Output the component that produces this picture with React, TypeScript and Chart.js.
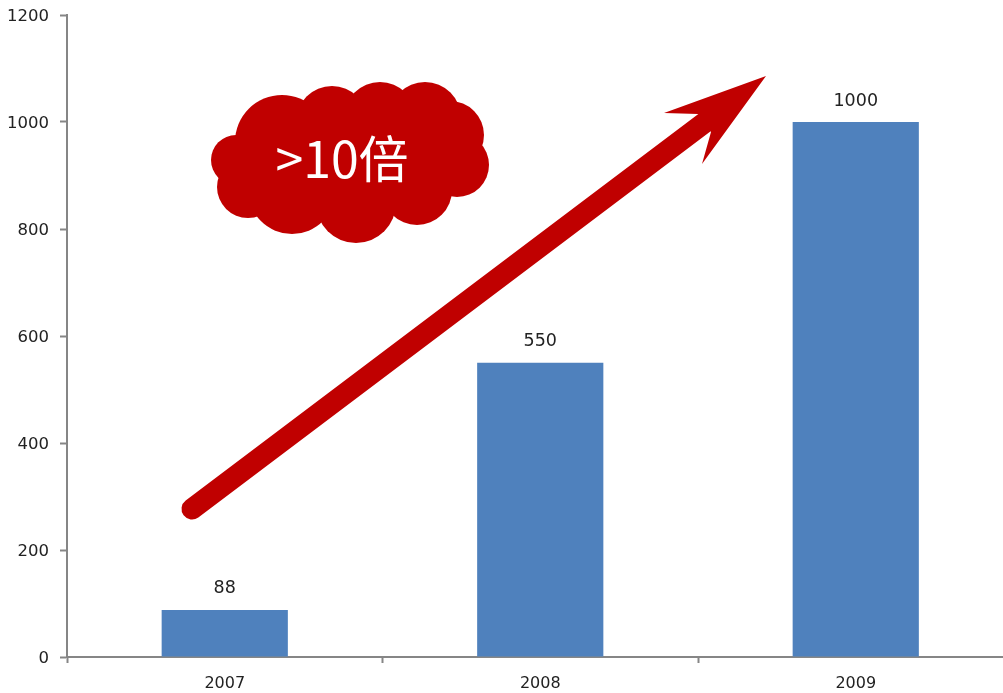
import { useEffect, useRef } from "react";
import { Chart, registerables } from "chart.js";

Chart.register(...registerables);

const categories = ["2007", "2008", "2009"];
const shipments = [88, 550, 1000];
const yTicks = [0, 200, 400, 600, 800, 1000, 1200];
const badgeText = ">10倍";

const RED = "#C00000";
const BLUE = "#4F81BD";
const AXIS = "#868686";
const TEXT = "#222222";
const FONT = '"DejaVu Sans", sans-serif';

// Lobes of the cloud badge: [x, y, radius]
const cloudLobes: [number, number, number][] = [
  [282, 142, 47], [332, 122, 36], [380, 118, 36], [425, 118, 36], [450, 135, 34],
  [457, 165, 32], [417, 190, 35], [356, 203, 40], [292, 190, 44], [248, 187, 31],
  [236, 160, 25], [350, 160, 50], [400, 160, 45],
];

const annotations = {
  id: "annotations",
  afterDatasetsDraw(chart: Chart) {
    const { ctx } = chart;
    ctx.save();

    // Value labels above each bar
    const meta = chart.getDatasetMeta(0);
    ctx.fillStyle = TEXT;
    ctx.font = `17.5px ${FONT}`;
    ctx.textAlign = "center";
    ctx.textBaseline = "alphabetic";
    meta.data.forEach((bar, i) => {
      ctx.fillText(String(shipments[i]), bar.x, bar.y - 16.5);
    });

    // Rising arrow
    ctx.strokeStyle = RED;
    ctx.fillStyle = RED;
    ctx.lineWidth = 21;
    ctx.lineCap = "round";
    ctx.beginPath();
    ctx.moveTo(192, 509);
    ctx.lineTo(704, 123);
    ctx.stroke();
    ctx.beginPath();
    ctx.moveTo(766, 76);
    ctx.lineTo(664, 113);
    ctx.lineTo(698, 114);
    ctx.lineTo(711, 132);
    ctx.lineTo(702, 164);
    ctx.closePath();
    ctx.fill();

    // Cloud badge: each lobe is filled on its own so the overlaps stay solid
    cloudLobes.forEach(([x, y, r]) => {
      ctx.beginPath();
      ctx.arc(x, y, r, 0, Math.PI * 2);
      ctx.fill();
    });
    ctx.fillStyle = "#FFFFFF";
    ctx.font = '50px "Noto Sans CJK SC", sans-serif';
    ctx.textAlign = "center";
    ctx.textBaseline = "middle";
    ctx.fillText(badgeText, 342, 159);

    ctx.restore();
  },
};

export default function App() {
  const ref = useRef<HTMLCanvasElement>(null);

  useEffect(() => {
    document.body.style.margin = "0";
    const chart = new Chart(ref.current!, {
      type: "bar",
      data: {
        labels: categories,
        datasets: [
          {
            data: shipments,
            backgroundColor: BLUE,
            barPercentage: 0.4,
            categoryPercentage: 1,
          },
        ],
      },
      plugins: [annotations],
      options: {
        responsive: false,
        animation: false,
        layout: { padding: { top: 15, right: 10.5, left: 0, bottom: 0 } },
        plugins: { legend: { display: false }, tooltip: { enabled: false } },
        scales: {
          x: {
            afterFit(scale) {
              scale.height = 36;
            },
            border: { color: AXIS, width: 2 },
            grid: { drawOnChartArea: false, color: AXIS, lineWidth: 1, tickLength: 6, tickWidth: 2 },
            ticks: { color: TEXT, font: { family: FONT, size: 16 }, padding: 11, maxRotation: 0 },
          },
          y: {
            min: 0,
            max: 1200,
            afterFit(scale) {
              scale.width = 67;
              scale.paddingTop = 0;
              scale.paddingBottom = 0;
            },
            afterBuildTicks(scale) {
              scale.ticks = yTicks.map((value) => ({ value }));
            },
            border: { color: AXIS, width: 2 },
            grid: { drawOnChartArea: false, color: AXIS, lineWidth: 1, tickLength: 7, tickWidth: 2 },
            ticks: {
              color: TEXT,
              font: { family: FONT, size: 16.5 },
              padding: 11,
              labelOffset: 1.5,
              callback: (value) => String(value),
            },
          },
        },
      },
    });
    return () => chart.destroy();
  }, []);

  return (
    <div style={{ width: 1003, height: 693, overflow: "hidden", position: "relative", background: "#fff" }}>
      <canvas ref={ref} width={1024} height={693} style={{ display: "block" }} />
    </div>
  );
}
